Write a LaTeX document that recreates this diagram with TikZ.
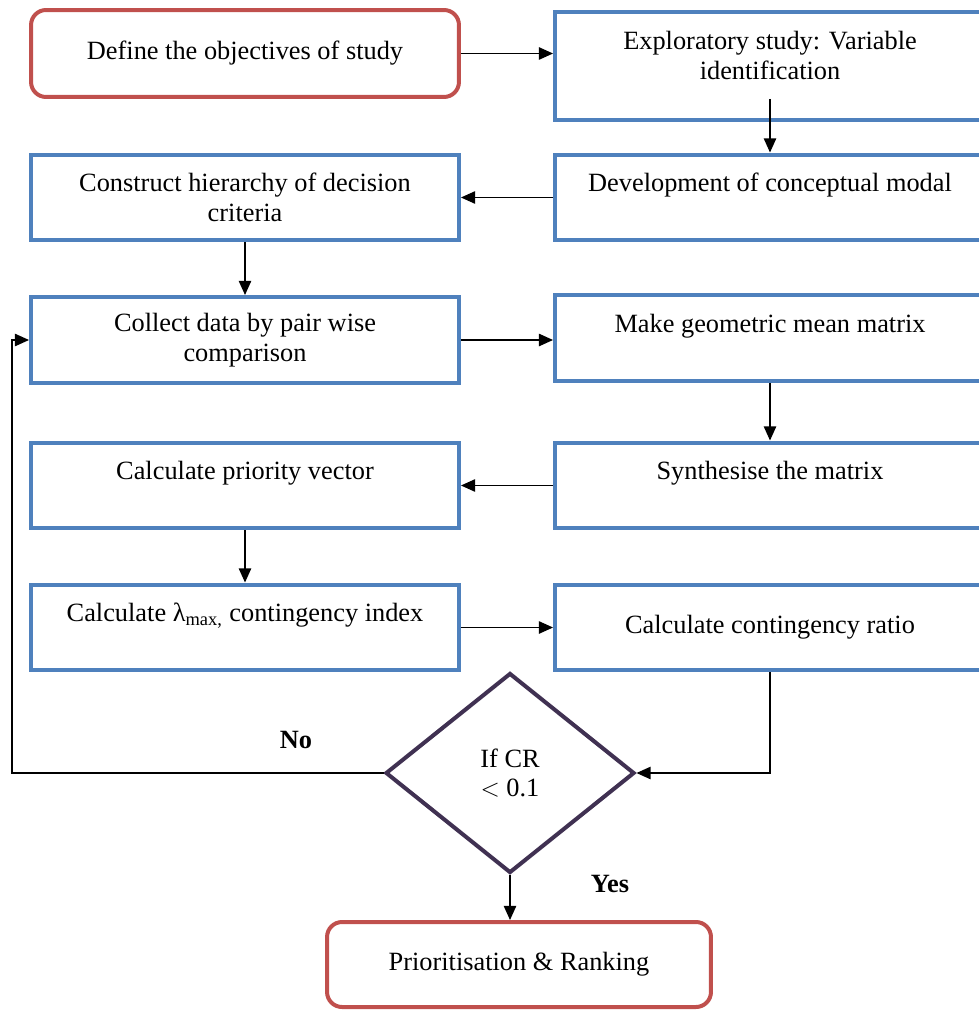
\documentclass[tikz,border=0pt]{standalone}
\usepackage{fontspec}
\setmainfont{Liberation Serif}
\usetikzlibrary{shapes.geometric,arrows.meta}

\definecolor{boxblue}{RGB}{79,129,189}
\definecolor{boxred}{RGB}{192,80,77}
\definecolor{dmpurple}{RGB}{64,49,82}

\tikzset{
  txt/.style={font=\fontsize{15}{17}\selectfont, align=center},
  stepbox/.style={txt, draw=boxblue, line width=0.08cm, minimum height=1.72cm, inner sep=2pt},
  leftbox/.style={stepbox, minimum width=8.56cm},
  rightbox/.style={stepbox, minimum width=8.6cm},
  endbox/.style={txt, draw=boxred, line width=0.08cm, rounded corners=0.3cm, minimum height=1.72cm},
  testbox/.style={txt, draw=dmpurple, line width=0.08cm, diamond, inner sep=0pt, minimum width=4.98cm, minimum height=4cm},
  arr/.style={line width=0.8pt, -{Triangle[length=8pt,width=7pt]}},
  answer/.style={font=\fontsize{15}{17}\selectfont\bfseries}
}

\begin{document}
\begin{tikzpicture}[x=0.02cm, y=-0.02cm]
  \useasboundingbox (0, 0) rectangle (979, 1010);
  \clip (0, 0) rectangle (979, 1010);

  % left column
  \node [endbox, minimum width=8.56cm, minimum height=1.74cm] (objectives) at (245, 53.5) {Define the objectives of study};
  \node [leftbox] (hierarchy) at (245, 197.5) {Construct hierarchy of decision\\criteria};
  \node [leftbox] (collect) at (245, 340) {Collect data by pair wise\\comparison};
  \node [leftbox] (priority) at (245, 485.5) {Calculate priority vector\\\mbox{}};
  \node [leftbox] (lambda) at (245, 627.5) {Calculate λ\textsubscript{max,} contingency index\\\mbox{}};

  % right column
  \node [rightbox, minimum height=2.16cm] (explore) at (770, 66) {Exploratory study: Variable\\identification\\[-4.5pt]\mbox{}};
  \node [rightbox] (model) at (770, 197.5) {Development of conceptual modal\\\mbox{}};
  \node [rightbox] (mean) at (770, 338) {Make geometric mean matrix\\\mbox{}};
  \node [rightbox] (synth) at (770, 485.5) {Synthesise the matrix\\\mbox{}};
  \node [rightbox] (ratio) at (770, 627.5) {Calculate contingency ratio};

  % decision and end
  \node [testbox] (check) at (510, 773) {If CR\\$<$ 0.1};
  \node [endbox, minimum width=7.68cm, minimum height=1.7cm] (ranking) at (519, 964.5) {Prioritisation \& Ranking};
  \coordinate (back) at (12, 340);

  \node [answer] (no) at (296, 740) {No};
  \node [answer] (yes) at (610, 884) {Yes};

  \draw [arr] (objectives.east) -- (objectives.east -| explore.west);
  \draw [arr] ([yshift=0.46cm]explore.south) -- (model.north);
  \draw [arr] (model.west) -- (hierarchy.east);
  \draw [arr] (hierarchy.south) -- (collect.north);
  \draw [arr] (collect.east) -- (collect.east -| mean.west);
  \draw [arr] (mean.south) -- (synth.north);
  \draw [arr] (synth.west) -- (priority.east);
  \draw [arr] (priority.south) -- (lambda.north);
  \draw [arr] (lambda.east) -- (ratio.west);
  \draw [arr] (ratio.south) |- (check.east);
  \draw [arr] (check.west) -| (back) -- (collect.west);
  \draw [arr] (check.south) -- (check.south |- ranking.north);
\end{tikzpicture}
\end{document}
